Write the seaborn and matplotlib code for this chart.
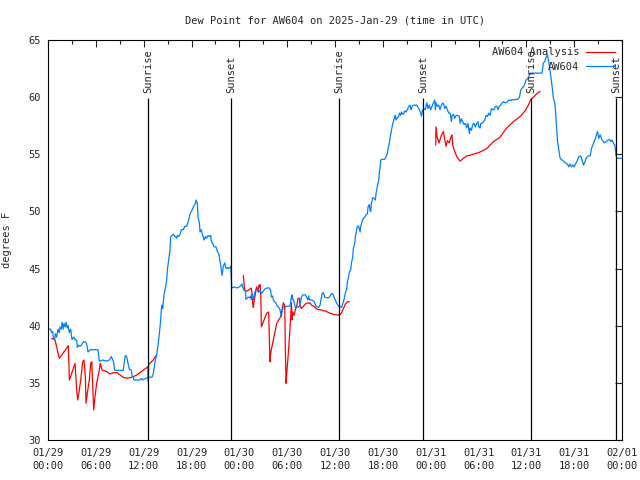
import numpy as np
import pandas as pd
import matplotlib
matplotlib.use('Agg')
import matplotlib.pyplot as plt
import matplotlib.dates as mdates
import seaborn as sns

start = pd.Timestamp('2025-01-29 00:00')

# AW604 observed dew point (hours since 01/29 00:00 UTC, deg F)
blue_hours = [
    0.08, 0.33, 0.42, 0.59, 0.67, 0.84, 0.92, 1.09, 1.25, 1.42, 1.51, 1.67, 1.76, 1.92, 2.01, 2.17, 2.26,
    2.43, 2.51, 2.68, 2.84, 3.01, 3.26, 3.43, 3.60, 3.68, 3.85, 4.01, 4.18, 4.43, 4.68, 4.85, 5.02, 5.27,
    5.60, 6.27, 6.44, 6.86, 7.36, 7.69, 7.94, 8.20, 8.36, 9.03, 9.45, 9.53, 9.70, 9.87, 10.04, 10.20, 10.45,
    10.54, 10.70, 10.79, 11.54, 11.71, 11.88, 12.29, 12.54, 13.05,
    13.21, 13.46, 13.63, 13.80, 13.97, 14.13, 14.22, 14.30, 14.38, 14.55, 14.72, 14.89, 14.97, 15.14, 15.30,
    15.39, 15.55, 15.72, 15.97, 16.14, 16.22, 16.39, 16.56, 16.73, 16.98, 17.14, 17.39, 17.65, 17.81, 18.06,
    18.23, 18.48, 18.56, 18.73, 18.82, 18.98, 19.07, 19.23, 19.40, 19.57, 19.74, 19.90, 20.07, 20.24, 20.41,
    20.49, 20.66, 20.82, 21.07, 21.24, 21.41, 21.49, 21.66, 21.74, 21.83, 21.99, 22.16, 22.33, 22.50, 22.66,
    22.83, 22.91, 22.98, 23.05, 23.42,
    23.67, 24.00, 24.17, 24.33, 24.42, 24.58, 24.75, 24.83, 25.08, 25.25, 25.42, 25.50, 25.58, 25.75, 25.92,
    26.09, 26.26, 26.42, 26.59, 26.76, 26.93, 27.18, 27.43, 27.76, 27.93, 28.01, 28.18, 28.26, 28.43, 28.60,
    28.77, 28.93, 29.10, 29.19, 29.27, 29.35, 29.52, 29.69, 29.86, 30.02, 30.36, 30.52, 30.61, 30.69, 30.77,
    31.02, 31.27, 31.44, 31.61, 31.78, 31.94, 32.28, 32.44, 32.61, 32.70, 32.78, 32.95, 33.12, 33.37, 33.62,
    33.95, 34.12, 34.37, 34.54, 34.71, 34.88, 35.21, 35.37, 35.54, 35.71, 35.87, 36.04, 36.21, 36.46, 36.80,
    36.96, 37.13, 37.30, 37.46,
    37.55, 37.72, 37.80, 37.97, 38.05, 38.22, 38.30, 38.47, 38.55, 38.72, 38.80, 38.97, 39.14, 39.22, 39.39,
    39.55, 39.72, 39.89, 40.06, 40.14, 40.31, 40.39, 40.48, 40.56, 40.73, 40.89, 41.06, 41.15, 41.31, 41.48,
    41.56, 41.65, 41.73, 41.90, 42.23, 42.40, 42.57, 42.65, 42.82, 42.91, 42.99, 43.07, 43.15, 43.24, 43.32,
    43.49, 43.57, 43.65, 43.82, 43.99, 44.07, 44.24, 44.32, 44.41, 44.57, 44.74, 44.91, 45.07, 45.24, 45.41,
    45.49, 45.58, 45.66, 45.82, 46.07, 46.24, 46.41, 46.58, 46.75,
    46.83, 47.00, 47.16, 47.33, 47.50, 47.67, 47.83, 48.00, 48.17, 48.34, 48.50, 48.59, 48.67, 48.84, 49.01,
    49.17, 49.34, 49.51, 49.67, 49.76, 49.92, 50.09, 50.26, 50.43, 50.59, 50.68, 50.84, 51.01, 51.18, 51.35,
    51.51, 51.60, 51.68, 51.85, 52.02, 52.18, 52.35, 52.52, 52.68, 52.85, 52.93, 53.10, 53.27, 53.44, 53.60,
    53.77, 53.94, 54.02, 54.19, 54.27, 54.44, 54.61, 54.77, 54.94, 55.11, 55.28, 55.44, 55.61, 55.78, 55.94,
    56.11, 56.28, 56.45, 56.61, 56.78, 56.95, 57.12, 57.37, 57.62, 57.79, 58.04, 58.20, 58.37, 58.62, 58.88,
    59.13, 59.29, 59.46, 59.63, 59.80, 59.97, 60.13, 60.30, 60.47,
    60.63, 61.05, 61.71, 61.96, 62.13, 62.30, 62.47, 62.64, 62.72, 62.81, 62.89, 63.06, 63.23, 63.39, 63.56,
    63.64, 63.73, 63.81, 63.89, 64.06, 64.23, 64.48, 64.73, 64.98, 65.15, 65.31, 65.48, 65.65, 65.81, 65.98,
    66.15, 66.32, 66.57, 66.82, 66.98, 67.15, 67.32, 67.49, 67.74, 67.99, 68.16, 68.32, 68.49, 68.66, 68.83,
    68.91, 69.08, 69.24, 69.50, 69.75, 70.00, 70.25, 70.42, 70.58, 70.75, 70.92, 71.09, 71.17, 71.25, 71.33,
    71.50, 71.90,
]
blue_vals = [
    39.7, 39.7, 39.4, 39.5, 39.0, 38.8, 39.3, 39.0, 39.7, 39.4, 39.9, 39.7, 40.3, 39.7, 40.2, 39.9, 40.3,
    39.8, 40.0, 39.4, 39.7, 38.8, 39.0, 38.75, 38.75, 38.1, 38.3, 38.2, 38.3, 38.6, 38.6, 38.4, 37.7, 37.9,
    37.9, 37.9, 36.9, 37.0, 36.9, 37.0, 37.3, 36.9, 36.1, 36.1, 36.1, 36.65, 37.4, 37.3, 36.7, 36.2, 36.1,
    35.6, 35.5, 35.25, 35.25, 35.4, 35.25, 35.4, 35.5, 35.5,
    35.8, 37.0, 37.4, 38.3, 39.3, 40.5, 41.4, 41.8, 41.5, 42.7, 43.3, 44.0, 44.9, 45.75, 46.6,
    47.8, 47.9, 48.0, 47.8, 47.65, 47.9, 47.8, 48.0, 48.4, 48.4, 48.7, 48.7, 49.25, 49.8, 50.1,
    50.4, 50.7, 51.0, 50.7, 49.5, 49.0, 48.2, 48.4, 47.9, 47.5, 47.8, 47.65, 47.9, 47.8, 47.9,
    47.35, 47.2, 46.9, 46.9, 46.5, 46.3, 46.0, 45.3, 44.9, 44.4, 45.2, 45.5, 45.0, 45.1, 45.0,
    45.1, 45.2, 44.4, 43.3, 43.4,
    43.3, 43.4, 43.5, 43.65, 43.4, 43.1, 43.1, 42.3, 42.5, 42.45, 42.6, 42.3, 42.8, 42.3, 42.9,
    43.2, 43.2, 42.9, 43.1, 42.8, 42.95, 43.2, 43.3, 43.3, 43.1, 42.5, 42.6, 42.25, 42.1, 41.96,
    41.7, 41.6, 41.4, 41.0, 40.8, 41.2, 41.7, 41.6, 41.7, 41.7, 41.7, 42.5, 42.7, 42.3, 42.3,
    41.6, 41.7, 41.6, 41.8, 42.5, 42.7, 42.7, 42.5, 42.25, 42.6, 42.3, 42.25, 42.25, 42.1, 41.7,
    41.6, 41.8, 42.8, 42.9, 42.5, 42.45, 42.45, 42.6, 42.8, 42.8, 42.5, 42.25, 41.96, 41.7, 41.6,
    41.9, 42.3, 42.9, 43.2,
    43.85, 44.3, 44.7, 44.9, 45.5, 46.0, 46.8, 47.2, 47.8, 48.4, 48.7, 48.7, 48.2, 48.7, 49.1,
    49.4, 49.5, 49.7, 49.8, 50.4, 50.6, 50.1, 50.0, 50.7, 51.2, 51.15, 51.0, 51.6, 52.2, 52.75,
    53.5, 53.8, 54.5, 54.56, 54.56, 54.8, 55.1, 55.5, 56.0, 56.5, 56.8, 57.1, 57.4, 57.7, 57.85,
    58.3, 58.4, 58.0, 58.2, 58.3, 58.6, 58.4, 58.7, 58.6, 58.5, 58.8, 58.7, 58.9, 59.2, 59.3,
    59.0, 58.9, 59.2, 59.3, 59.3, 59.3, 59.1, 58.9, 58.6,
    58.35, 58.9, 59.0, 58.9, 59.5, 59.0, 59.3, 58.9, 59.2, 59.5, 59.75, 58.9, 59.5, 59.2, 59.3,
    58.9, 59.3, 59.5, 59.3, 59.0, 59.2, 58.9, 58.6, 58.6, 57.85, 58.4, 58.5, 58.15, 58.4, 58.4,
    58.35, 58.3, 57.7, 58.1, 57.85, 57.6, 57.7, 57.3, 57.7, 56.8, 57.3, 57.1, 57.6, 57.7, 57.4,
    57.7, 57.85, 57.4, 57.3, 57.7, 57.7, 57.85, 58.0, 58.4, 58.3, 58.6, 58.4, 59.0, 58.9, 58.9,
    59.2, 59.2, 58.9, 59.2, 59.3, 59.5, 59.6, 59.5, 59.6, 59.75, 59.7, 59.8, 59.75, 59.8, 59.8,
    60.0, 60.6, 60.8, 60.9, 61.15, 61.5, 61.6, 61.8, 62.1,
    62.1, 62.1, 62.1, 62.1, 63.0, 63.1, 63.5, 63.7, 63.4, 63.0, 62.7, 61.8, 60.9, 59.9, 59.5,
    58.9, 58.0, 57.1, 56.25, 55.4, 54.65, 54.5, 54.35, 54.2, 54.15, 53.9, 54.15, 53.9, 54.06, 53.9,
    54.15, 54.35, 54.8, 54.85, 54.5, 54.06, 54.27, 54.65, 54.85, 54.85, 55.5, 55.8, 56.1, 56.4, 56.8,
    57.0, 56.4, 56.7, 56.25, 56.0, 56.1, 56.25, 56.3, 56.1, 56.25, 55.96, 55.8, 55.4, 54.9, 54.65,
    54.65, 54.65,
]

# AW604 Analysis, three separate runs
red_hours = [
    0.46, 0.88, 1.42, 2.55, 2.68, 2.84, 3.18, 3.39, 3.60, 3.72, 3.93, 4.10, 4.35, 4.52, 4.68, 4.77, 4.93,
    5.18, 5.35, 5.48, 5.60, 5.73, 5.85, 6.10, 6.36, 6.56, 6.77, 7.36, 7.78, 8.19, 8.70, 9.03, 9.45, 9.95,
    10.70, 11.12, 11.54, 11.96, 12.55, 12.58, 12.62, 13.21, 13.51,
    24.50, 24.58, 24.67, 24.83, 25.08, 25.33, 25.50, 25.58, 25.67, 25.75, 25.84, 26.01, 26.17, 26.34, 26.42,
    26.51, 26.59, 26.68, 26.76, 26.93, 27.18, 27.43, 27.68, 27.76, 27.84, 27.93, 28.10, 28.26, 28.51, 28.68,
    28.93, 29.19, 29.35, 29.52, 29.69, 29.77, 29.86, 29.94, 30.11, 30.28, 30.44, 30.53, 30.61, 30.69, 30.86,
    31.02, 31.19, 31.36, 31.53, 31.61, 31.78, 32.03, 32.28, 32.53, 32.70, 32.87, 33.03, 33.37, 33.62, 33.87,
    34.20, 34.54, 34.79, 35.04, 35.37, 35.79, 36.21, 36.54, 36.80, 37.04, 37.30, 37.55, 37.80,
    48.63, 48.65, 48.80, 49.05, 49.30, 49.59, 49.75, 49.92, 50.10, 50.30, 50.59, 50.65, 50.76, 50.93, 51.26,
    51.68, 52.10, 52.52, 53.35, 54.19, 55.03, 55.86, 56.70, 57.53, 58.37, 59.21, 59.83, 60.25, 60.55, 60.88,
    61.30, 61.72,
]
red_vals = [
    38.9, 38.75, 37.15, 38.25, 35.25, 35.54, 36.27, 36.71, 34.37, 33.5, 34.37, 35.25, 36.85, 37.0, 35.54, 33.21, 34.08,
    35.25, 36.71, 36.85, 34.96, 32.62, 33.5, 34.96, 35.83, 36.71, 36.12, 36.0, 35.77, 35.89, 35.89, 35.69, 35.48, 35.4,
    35.54, 35.69, 35.89, 36.12, 36.42, 35.1, 36.6, 37.0, 37.35,
    44.4, 43.7, 43.1, 43.0, 43.1, 43.2, 43.3, 42.8, 42.0, 41.6, 42.1, 42.8, 43.4, 43.0, 43.5,
    43.4, 43.6, 42.8, 39.9, 40.2, 40.65, 41.1, 41.2, 38.9, 36.85, 37.6, 38.2, 38.75, 39.6, 40.2,
    40.5, 40.8, 41.4, 42.0, 41.8, 37.9, 34.96, 35.8, 37.3, 39.0, 40.8, 42.0, 40.5, 41.2, 40.9,
    41.4, 41.7, 42.4, 42.4, 41.8, 41.5, 41.7, 41.9, 42.0, 41.96, 42.0, 41.8, 41.7, 41.5, 41.4,
    41.4, 41.3, 41.3, 41.2, 41.1, 41.0, 40.94, 40.94, 41.1, 41.5, 41.9, 42.1, 42.1,
    55.8, 57.4, 56.5, 56.0, 56.6, 57.0, 56.3, 55.7, 56.2, 56.0, 56.6, 56.7, 55.8, 55.4, 54.8,
    54.4, 54.65, 54.85, 55.0, 55.2, 55.5, 56.1, 56.5, 57.3, 57.85, 58.3, 58.8, 59.3, 59.8, 60.0,
    60.3, 60.5,
]
red_seg = [0] * 43 + [1] * 73 + [2] * 32

sunrise_hours = [12.57, 36.55, 60.62]
sunset_hours = [22.98, 47.05, 71.22]

blue = pd.DataFrame({'time': start + pd.to_timedelta(blue_hours, unit='h'), 'dew': blue_vals})
red = pd.DataFrame({'time': start + pd.to_timedelta(red_hours, unit='h'), 'dew': red_vals, 'seg': red_seg})

sns.set_style('white')
plt.rcParams['font.family'] = ['DejaVu Sans Mono']
fs = 7.5

fig, ax = plt.subplots(figsize=(6.4, 4.8), dpi=100)
fig.subplots_adjust(left=0.075, right=0.972, top=0.9167, bottom=0.0833)

for seg, grp in red.groupby('seg'):
    sns.lineplot(data=grp, x='time', y='dew', color='#ff0000', lw=0.9, estimator=None, sort=False,
                 label='AW604 Analysis' if seg == 0 else '_nolegend_', ax=ax)
sns.lineplot(data=blue, x='time', y='dew', color='#0080ff', lw=0.9, estimator=None, sort=False,
             label='AW604', ax=ax)

# sunrise / sunset markers
sun_times = start + pd.to_timedelta(sunrise_hours + sunset_hours, unit='h')
sun_names = ['Sunrise'] * len(sunrise_hours) + ['Sunset'] * len(sunset_hours)
ax.vlines(sun_times, 30, 59.95, color='black', lw=0.9)
for t, name in zip(sun_times, sun_names):
    ax.text(t, 60.4, name, rotation=90, ha='center', va='bottom', fontsize=fs)

ax.set_xlim(start, start + pd.Timedelta(hours=72))
ax.set_ylim(30, 65)
ax.set_yticks(np.arange(30, 66, 5))
ax.xaxis.set_major_locator(mdates.HourLocator(byhour=range(0, 24, 6)))
ax.xaxis.set_minor_locator(mdates.HourLocator(byhour=range(0, 24, 3)))
ax.xaxis.set_major_formatter(mdates.DateFormatter('%m/%d\n%H:%M'))
ax.tick_params(which='both', direction='in', top=True, right=True, width=0.8, labelsize=fs)
ax.tick_params(which='major', length=5)
ax.tick_params(which='minor', length=3)
ax.tick_params(axis='x', pad=6)
ax.tick_params(axis='y', pad=5)
for lab in ax.get_xticklabels():
    lab.set_linespacing(1.35)
for sp in ax.spines.values():
    sp.set_color('black')
    sp.set_linewidth(0.8)

ax.set_xlabel('')
ax.set_ylabel('degrees F', fontsize=fs, labelpad=12)
ax.set_title('Dew Point for AW604 on 2025-Jan-29 (time in UTC)', fontsize=fs, pad=12)

handles, labels = ax.get_legend_handles_labels()
ax.legend(handles, labels, loc='upper right', frameon=False, markerfirst=False, fontsize=fs,
          handlelength=2.8, handletextpad=0.6, labelspacing=0.45, borderaxespad=0.3)

fig.savefig('out.png', dpi=100)
